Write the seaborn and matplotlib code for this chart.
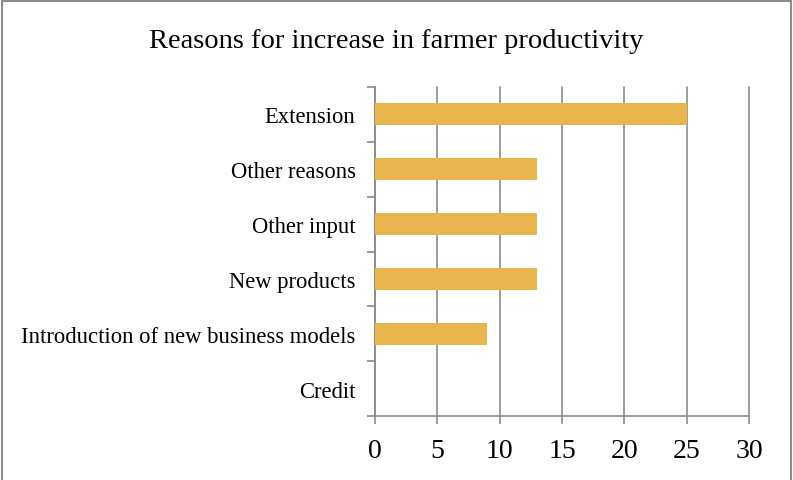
import matplotlib
matplotlib.use("Agg")
import matplotlib.pyplot as plt
import seaborn as sns
import pandas as pd
import numpy as np
from matplotlib.patches import Rectangle

categories = ["Extension", "Other reasons", "Other input", "New products",
              "Introduction of new business models", "Credit"]
values = [25, 13, 13, 13, 9, 0]
xticks = [0, 5, 10, 15, 20, 25, 30]
title = "Reasons for increase in farmer productivity"

sns.set_theme(style="white")
plt.rcParams['font.family'] = ['Liberation Serif', 'DejaVu Serif']

df = pd.DataFrame({"reason": categories, "count": values})

fig = plt.figure(figsize=(7.93, 4.81), dpi=100)
ax = fig.add_axes([375/793, 1-417/481, (749-375)/793, (417-88)/481])

sns.barplot(data=df, y="reason", x="count", order=categories, color="#E9B54F",
            saturation=1, width=0.4, linewidth=0, ax=ax, zorder=3)

ax.set_xlim(0, 30)
ax.set_ylim(len(categories)-0.5, -0.5)
ax.set_xticks(xticks)
ax.set_xticklabels([str(t) for t in xticks], fontsize=20, color="black")
for lbl in ax.get_yticklabels():
    lbl.set_fontsize(16.3)
    lbl.set_color("black")
ax.set_xlabel("")
ax.set_ylabel("")
ax.tick_params(axis='y', which='major', left=False, length=0, pad=14)
ax.set_yticks(np.arange(-0.5, len(categories), 1.0), minor=True)
ax.tick_params(axis='y', which='minor', left=True, length=6, color="#8C8C8C", width=1.2, direction='out')
ax.tick_params(axis='x', which='major', bottom=True, length=6, color="#8C8C8C", width=1.2, direction='out', pad=10)

ax.grid(axis='x', color="#8C8C8C", linewidth=1.2, zorder=0)
for gl in ax.get_xgridlines():
    gl.set_clip_on(False)
ax.set_axisbelow(True)
for s in ["top", "right"]:
    ax.spines[s].set_visible(False)
for s in ["left", "bottom"]:
    ax.spines[s].set_color("#8C8C8C")
    ax.spines[s].set_linewidth(1.2)

fig.text(396/793, 1-42/481, title, ha="center", va="center", fontsize=20.5, color="black")

fig.patches.append(Rectangle((0.002, -0.01), 0.996, 1.005, transform=fig.transFigure,
                             fill=False, edgecolor="#8C8C8C", linewidth=1.5))

fig.savefig("out.png", dpi=100)
